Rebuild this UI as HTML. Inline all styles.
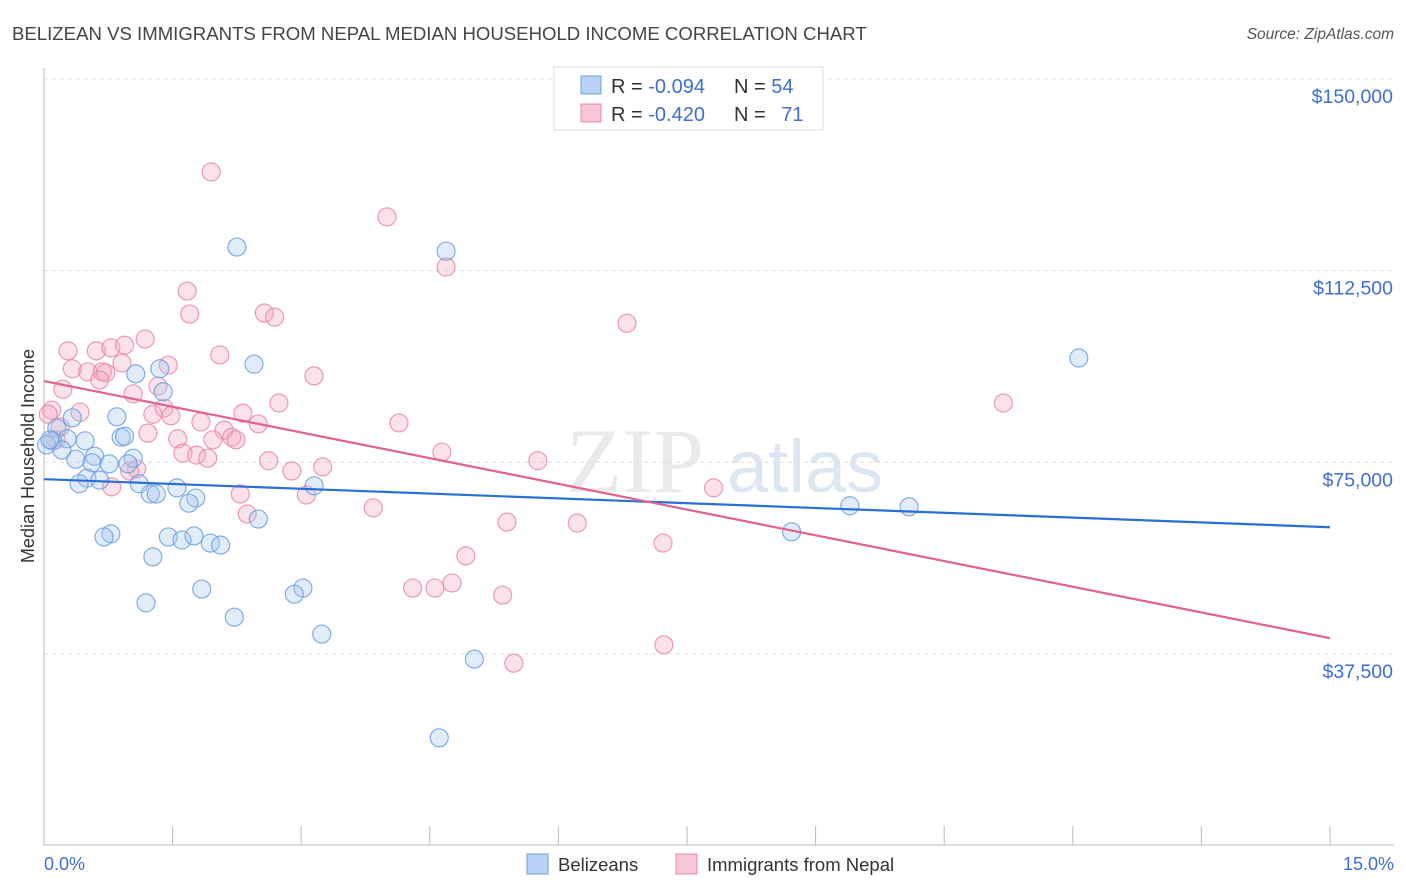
<!DOCTYPE html>
<html><head><meta charset="utf-8"><style>
body{margin:0;background:#fff;font-family:"Liberation Sans",sans-serif}
svg{display:block}
</style></head><body>
<svg id="c" width="1406" height="892">
<text x="12" y="40" font-size="18.6" fill="#444">BELIZEAN VS IMMIGRANTS FROM NEPAL MEDIAN HOUSEHOLD INCOME CORRELATION CHART</text>
<text x="1394" y="39" font-size="15.5" fill="#555" font-style="italic" text-anchor="end">Source: ZipAtlas.com</text>
<g><text x="635" y="492" font-size="92" fill="#ddd" font-family="Liberation Serif" text-anchor="middle" opacity="0.6">ZIP</text><text x="805" y="492" font-size="74" fill="#c8d8ee" text-anchor="middle" opacity="0.6">atlas</text></g>
<g id="grid"></g><g id="marks"></g>
<text transform="translate(34,456) rotate(-90)" font-size="18" fill="#333" text-anchor="middle">Median Household Income</text>
<text x="44" y="870" font-size="18" fill="#3d6fd0">0.0%</text>
<text x="1394" y="870" font-size="18" fill="#3d6fd0" text-anchor="end">15.0%</text>
<g>
<rect x="554" y="67" width="269" height="63" fill="#fff" stroke="#ddd"/>
<rect x="581" y="76" width="20" height="18" fill="#b7d2f4" stroke="#6d9fe0"/>
<rect x="581" y="104" width="20" height="18" fill="#f8c7d6" stroke="#e88aa8"/>
<text x="611" y="93" font-size="20" fill="#333">R = <tspan fill="#3d6fd0">-0.094</tspan></text>
<text x="734" y="93" font-size="20" fill="#333">N = <tspan fill="#3d6fd0">54</tspan></text>
<text x="611" y="121" font-size="20" fill="#333">R = <tspan fill="#3d6fd0">-0.420</tspan></text>
<text x="734" y="121" font-size="20" fill="#333">N = <tspan fill="#3d6fd0" dx="10">71</tspan></text>
</g>
<g>
<rect x="527" y="854" width="21" height="20" fill="#b7d2f4" stroke="#6d9fe0"/>
<text x="558" y="871" font-size="18.5" fill="#333">Belizeans</text>
<rect x="676" y="854" width="21" height="20" fill="#f8c7d6" stroke="#e88aa8"/>
<text x="707" y="871" font-size="18.5" fill="#333">Immigrants from Nepal</text>
</g>
</svg>
<script>
const yTicks=[37.5,75,112.5,150];
const yTickLabels=["$37,500","$75,000","$112,500","$150,000"];
const blueX=[2.25,4.69,12.07,2.45,1.07,1.35,1.39,0.85,0.33,0.15,0.90,0.94,0.27,0.48,0.10,0.03,0.21,0.37,0.59,0.56,0.76,1.04,0.98,0.50,0.65,0.41,1.11,1.55,1.24,1.31,1.77,1.69,3.15,2.50,9.40,10.09,8.72,0.78,0.70,1.45,1.61,1.75,1.94,2.06,1.27,1.84,3.02,2.92,1.19,2.22,3.24,5.02,4.61,0.07];
const blueY=[117.1,116.3,95.4,94.2,92.3,93.3,88.8,83.9,83.7,81.7,79.9,80.1,79.6,79.2,79.2,78.4,77.4,75.6,76.2,74.9,74.7,75.8,74.7,71.9,71.5,70.8,70.8,70.0,68.8,68.8,68.0,67.0,70.4,63.9,66.5,66.3,61.4,61.0,60.4,60.4,59.8,60.6,59.2,58.8,56.5,50.2,50.4,49.2,47.5,44.7,41.4,36.5,21.1,79.4];
const pinkX=[1.95,4.00,4.69,1.67,1.70,2.57,2.69,6.80,1.18,0.28,0.61,0.78,0.94,2.05,1.45,0.91,0.33,0.51,0.68,0.72,3.15,0.65,1.33,0.22,1.04,11.19,2.74,1.40,0.42,0.09,2.32,1.27,1.48,2.50,4.14,1.83,0.19,2.10,1.21,2.19,2.24,1.56,1.97,0.14,4.64,1.62,1.78,1.91,2.62,5.76,3.25,2.89,1.08,1.00,0.79,7.81,3.06,2.29,3.84,2.37,5.40,6.22,7.22,4.92,4.76,4.56,4.30,5.35,7.23,5.48,0.05];
const pinkY=[131.8,123.0,113.2,108.5,104.0,104.2,103.4,102.2,99.1,96.8,96.8,97.4,97.9,96.0,94.0,94.4,93.3,92.7,92.7,92.5,91.9,91.1,89.9,89.3,88.4,86.6,86.6,85.6,84.8,85.2,84.6,84.4,84.1,82.5,82.7,82.9,81.9,81.3,80.7,79.9,79.4,79.6,79.4,79.4,77.0,76.8,76.4,75.8,75.3,75.3,74.1,73.3,73.7,73.3,70.2,70.0,68.6,68.8,66.1,64.9,63.3,63.1,59.2,56.7,51.4,50.4,50.4,49.0,39.3,35.7,84.4];
const blueTrend=[71.7,62.3];
const pinkTrend=[90.9,40.6];
const X=v=>44+v/15*1286, Y=v=>845.7-v/37.5*191.7;
const NS="http://www.w3.org/2000/svg";
function mk(t,a,p){const e=document.createElementNS(NS,t);for(const k in a)e.setAttribute(k,a[k]);p.appendChild(e);return e;}
const g=document.getElementById('grid'),m=document.getElementById('marks');
yTicks.forEach((t,i)=>{
 const l=mk('line',{x1:44,x2:1394,y1:Y(t),y2:Y(t),stroke:'#ddd','stroke-dasharray':'4,4'},g);
 
 
 const tx=mk('text',{x:1393,y:Y(t)+24,'font-size':19.5,fill:'#3d6fd0','text-anchor':'end'},g);
 tx.textContent=yTickLabels[i];
 
 
});
const ax=mk('path',{d:'M44,68V845H1394',fill:'none',stroke:'#bbb'},g);


for(let i=1;i<=10;i++){const t=mk('line',{x1:X(i*1.5),x2:X(i*1.5),y1:845,y2:826,stroke:'#bbb'},g);
 
 }
function pts(xs,ys,fill,stroke,name){xs.forEach((x,i)=>{
 const c=mk('circle',{cx:X(x),cy:Y(ys[i]),r:9,fill:fill,'fill-opacity':0.35,stroke:stroke,'stroke-opacity':0.85,'stroke-width':1.2},m);
 
 });}
pts(pinkX,pinkY,'#f4a9c0','#e88aa8','nepal-point');
pts(blueX,blueY,'#a9c8ef','#6d9fe0','belizean-point');
const bl=mk('line',{x1:X(0),y1:Y(blueTrend[0]),x2:X(15),y2:Y(blueTrend[1]),stroke:'#2b6fd6','stroke-width':2.2},m);


const pl=mk('line',{x1:X(0),y1:Y(pinkTrend[0]),x2:X(15),y2:Y(pinkTrend[1]),stroke:'#e0628e','stroke-width':2.2},m);


</script>
</body></html>
